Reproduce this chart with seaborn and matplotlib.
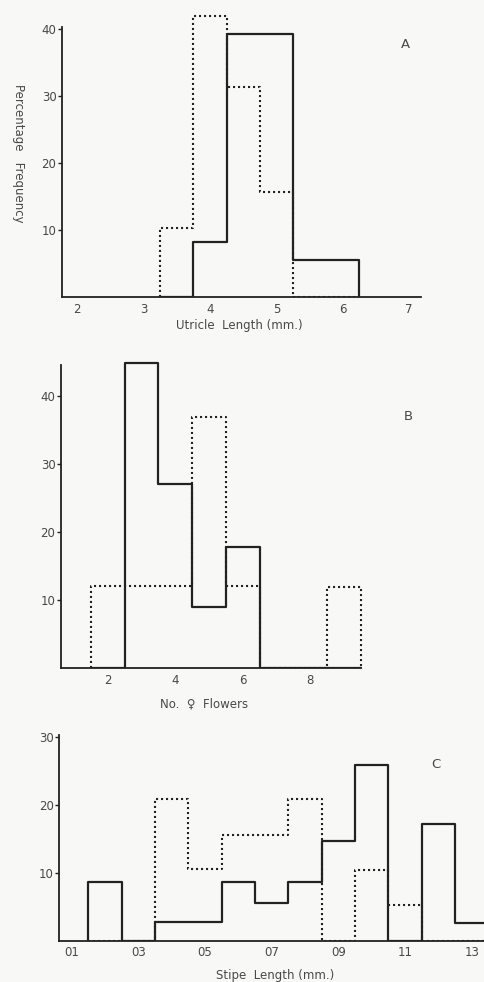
import numpy as np
import pandas as pd
import matplotlib
matplotlib.use("Agg")
import matplotlib.pyplot as plt
import seaborn as sns

# A: utricle length (mm), 0.5 mm classes
utricle_edges = [3.25, 3.75, 4.25, 4.75, 5.25, 5.75, 6.25]
utricle_solid = [0.0, 8.2, 39.3, 39.3, 5.5, 5.5]
utricle_dotted = [10.3, 42.0, 31.4, 15.7, 0.0, 0.0]
utricle_ticks = [2, 3, 4, 5, 6, 7]

# B: number of female flowers per spike
flower_edges = [1.5, 2.5, 3.5, 4.5, 5.5, 6.5, 7.5, 8.5, 9.5]
flower_solid = [0.0, 44.9, 27.0, 8.9, 17.8, 0.0, 0.0, 0.0]
flower_dotted = [12.1, 12.1, 12.1, 36.9, 12.0, 0.0, 0.0, 11.9]
flower_ticks = [2, 4, 6, 8]

# C: stipe length (mm)
stipe_edges = [1.5, 2.5, 3.5, 4.5, 5.5, 6.5, 7.5, 8.5, 9.5, 10.5, 11.5, 12.5, 13.5]
stipe_solid = [8.6, 0.0, 2.8, 2.8, 8.6, 5.6, 8.6, 14.6, 25.9, 0.0, 17.2, 2.6]
stipe_dotted = [0.0, 0.0, 20.9, 10.5, 15.5, 15.5, 20.8, 0.0, 10.4, 5.2, 0.0, 0.0]
stipe_ticks = [1, 3, 5, 7, 9, 11, 13]
stipe_ticklabels = ["01", "03", "05", "07", "09", "11", "13"]

W, H = 485, 982
INK = "#222222"
GREY = "#484848"
PAPER = "#f8f8f6"

sns.set_style("ticks")
plt.rcParams["font.family"] = ["DejaVu Sans"]

fig = plt.figure(figsize=(W / 100, H / 100), dpi=100, facecolor=PAPER)


def axes_px(left, right, bottom, top):
    return fig.add_axes([left / W, 1 - bottom / H, (right - left) / W, (bottom - top) / H])


def outline(ax, edges, heights, dotted):
    edges = [float(e) for e in edges]
    # hairline empty classes at both ends so the outline drops to the baseline
    eps = 1e-6
    bins = [edges[0] - eps] + edges + [edges[-1] + eps]
    df = pd.DataFrame({
        "mid": [(a + b) / 2 for a, b in zip(edges[:-1], edges[1:])],
        "pct": [float(h) for h in heights],
    })
    if dotted:
        kw = dict(linestyle=(0, (1.0, 1.4)), linewidth=1.5)
    else:
        kw = dict(linestyle="-", linewidth=1.6)
    sns.histplot(data=df, x="mid", weights="pct", bins=bins, element="step",
                 fill=False, color=INK, ax=ax, **kw)


def style(ax, xlim, ylim, ytop, yticks, xticks, xticklabels=None, xend=None):
    ax.set_facecolor(PAPER)
    ax.set_xlim(*xlim)
    ax.set_ylim(*ylim)
    sns.despine(ax=ax)
    ax.spines["left"].set_bounds(0, ytop)
    if xend is not None:
        ax.spines["bottom"].set_bounds(xlim[0], xend)
    for s in ("left", "bottom"):
        ax.spines[s].set_color(INK)
        ax.spines[s].set_linewidth(1.3)
    ax.set_yticks(yticks)
    ax.set_xticks(xticks)
    if xticklabels is not None:
        ax.set_xticklabels(xticklabels)
    ax.tick_params(axis="y", length=3, width=1.0, color=INK, pad=1, labelsize=8.5, labelcolor=GREY)
    ax.tick_params(axis="x", length=0, pad=4, labelsize=8.5, labelcolor=GREY)
    ax.set_xlabel("")
    ax.set_ylabel("")


# Panel A
axA = axes_px(62, 421, 297, 297 - 43 * 6.7)
outline(axA, utricle_edges, utricle_dotted, True)
outline(axA, utricle_edges, utricle_solid, False)
style(axA, (1.77, 7.18), (0, 43), 40.3, [10, 20, 30, 40], utricle_ticks)

# Panel B
axB = axes_px(61, 40 + 33.8 * 9.7, 668, 668 - 46 * 6.8)
outline(axB, flower_edges, flower_dotted, True)
outline(axB, flower_edges, flower_solid, False)
style(axB, (0.62, 9.7), (0, 46), 44.6, [10, 20, 30, 40], flower_ticks, xend=9.5)

# Panel C
axC = axes_px(59.3, 485, 940.7, 940.7 - 30.3 * 6.8)
outline(axC, stipe_edges, stipe_dotted, True)
outline(axC, stipe_edges, stipe_solid, False)
style(axC, (0.63, 13.4), (0, 30.3), 30.3, [10, 20, 30], stipe_ticks, stipe_ticklabels)


def ftext(x, y, s, **kw):
    fig.text(x / W, 1 - y / H, s, ha="center", va="center", color=GREY, **kw)


ftext(18, 153, "Percentage   Frequency", rotation=270, fontsize=8.5)
ftext(239, 326, "Utricle  Length (mm.)", fontsize=8.5)
ftext(204, 704, "No.  \u2640  Flowers", fontsize=8.5)
ftext(275, 975, "Stipe  Length (mm.)", fontsize=8.5)
for x, y, s in [(405, 45, "A"), (408, 416, "B"), (436, 765, "C")]:
    ftext(x, y, s, fontsize=9.5)

fig.savefig("out.png", dpi=100, facecolor=PAPER)
